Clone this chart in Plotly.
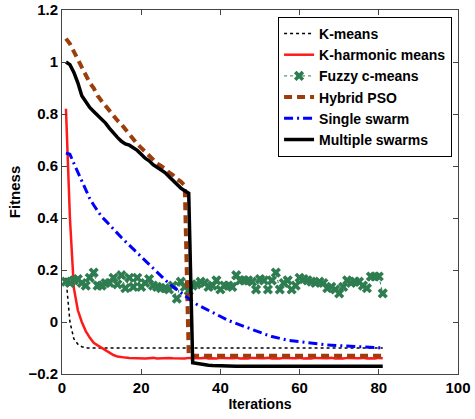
import plotly.graph_objects as go

iterations = list(range(1, 82))

kmeans = [0.17, 0.0, -0.065, -0.085, -0.095] + [-0.1] * 76

kharmonic = [0.82, 0.40, 0.13, 0.045, 0.0, -0.035, -0.06, -0.08, -0.09, -0.10,
             -0.11, -0.12, -0.127, -0.133, -0.136, -0.137, -0.138, -0.139, -0.138, -0.139,
             -0.14, -0.139, -0.138, -0.14, -0.139, -0.14, -0.138, -0.139, -0.14, -0.139,
             -0.14, -0.138, -0.139, -0.14, -0.139, -0.138, -0.14, -0.139, -0.14, -0.138,
             -0.139, -0.14, -0.139, -0.138, -0.14, -0.139, -0.14, -0.138, -0.139, -0.14,
             -0.139, -0.138, -0.14, -0.139, -0.14, -0.138, -0.139, -0.14, -0.139, -0.138,
             -0.14, -0.139, -0.14, -0.138, -0.139, -0.14, -0.139, -0.138, -0.14, -0.139,
             -0.14, -0.138, -0.139, -0.14, -0.139, -0.138, -0.14, -0.139, -0.14, -0.138,
             -0.139]

fuzzy = [0.155, 0.15, 0.16, 0.165, 0.15, 0.14, 0.17, 0.19, 0.14, 0.14,
         0.15, 0.15, 0.17, 0.145, 0.18, 0.13, 0.17, 0.135, 0.17, 0.135,
         0.15, 0.165, 0.14, 0.135, 0.13, 0.13, 0.125, 0.14, 0.09, 0.155,
         0.135, 0.12, 0.14, 0.145, 0.155, 0.15, 0.135, 0.14, 0.16, 0.125,
         0.14, 0.14, 0.135, 0.18, 0.16, 0.16, 0.16, 0.155, 0.125, 0.165,
         0.16, 0.125, 0.16, 0.19, 0.125, 0.15, 0.16, 0.125, 0.14, 0.17,
         0.165, 0.16, 0.155, 0.15, 0.155, 0.15, 0.13, 0.135, 0.125, 0.11,
         0.135, 0.16, 0.15, 0.155, 0.155, 0.14, 0.13, 0.175, 0.175, 0.175,
         0.11]

hybrid_pso = [1.09, 1.07, 1.04, 1.01, 0.98, 0.95, 0.92, 0.90, 0.87, 0.85,
              0.83, 0.81, 0.79, 0.775, 0.76, 0.74, 0.72, 0.70, 0.685, 0.67,
              0.655, 0.635, 0.625, 0.61, 0.60, 0.59, 0.575, 0.565, 0.55, 0.54,
              0.525] + [-0.13] * 50

single_swarm = [0.65, 0.645, 0.61, 0.575, 0.54, 0.505, 0.475, 0.45, 0.425, 0.405,
                0.39, 0.373, 0.355, 0.34, 0.325, 0.31, 0.295, 0.28, 0.265, 0.25,
                0.235, 0.22, 0.205, 0.19, 0.175, 0.16, 0.148, 0.136, 0.124, 0.112,
                0.1, 0.088, 0.078, 0.068, 0.06, 0.052, 0.044, 0.036, 0.028, 0.02,
                0.013, 0.006, 0.0, -0.006, -0.012, -0.018, -0.024, -0.03, -0.036, -0.041,
                -0.046, -0.051, -0.056, -0.06, -0.064, -0.067, -0.07, -0.072, -0.074, -0.076,
                -0.078, -0.08, -0.082, -0.084, -0.086, -0.087, -0.088, -0.089, -0.09, -0.091,
                -0.092, -0.093, -0.094, -0.095, -0.096, -0.097, -0.098, -0.098, -0.099, -0.1,
                -0.1]

multiple_swarms = [1.0, 0.99, 0.96, 0.92, 0.87, 0.845, 0.825, 0.81, 0.795, 0.78,
                   0.765, 0.745, 0.725, 0.71, 0.695, 0.685, 0.68, 0.67, 0.66, 0.645,
                   0.63, 0.62, 0.605, 0.595, 0.585, 0.575, 0.56, 0.545, 0.53, 0.515,
                   0.505, 0.495, -0.157, -0.16, -0.163, -0.165, -0.166, -0.167, -0.168, -0.169] + [-0.17] * 41

x_ticks = [0, 20, 40, 60, 80, 100]
y_ticks = [-0.2, 0, 0.2, 0.4, 0.6, 0.8, 1, 1.2]
y_ticktext = ["\u22120.2", "0", "0.2", "0.4", "0.6", "0.8", "1", "1.2"]

FAM = "Liberation Sans, Arial, sans-serif"

fig = go.Figure()
fig.add_trace(go.Scatter(x=iterations, y=kmeans, name="K-means", mode="lines",
                         line=dict(color="black", width=1.5, dash="dot")))
fig.add_trace(go.Scatter(x=iterations, y=kharmonic, name="K-harmonic means", mode="lines",
                         line=dict(color="#ff1a1a", width=2.5)))
fig.add_trace(go.Scatter(x=iterations, y=fuzzy, name="Fuzzy c-means", mode="lines+markers",
                         line=dict(color="#2e7d50", width=1, dash="dot"),
                         marker=dict(symbol="x", size=9, color="#2e7d50")))
fig.add_trace(go.Scatter(x=iterations, y=hybrid_pso, name="Hybrid PSO", mode="lines",
                         line=dict(color="#9c3d0b", width=4, dash="8px,5px")))
fig.add_trace(go.Scatter(x=iterations, y=single_swarm, name="Single swarm", mode="lines",
                         line=dict(color="#0000ff", width=3, dash="9px,4px,2px,4px")))
fig.add_trace(go.Scatter(x=iterations, y=multiple_swarms, name="Multiple swarms", mode="lines",
                         line=dict(color="black", width=3.5)))

fig.update_layout(
    width=475, height=419,
    margin=dict(l=62, r=17, t=10, b=45),
    paper_bgcolor="white", plot_bgcolor="white",
    font=dict(family=FAM, size=14, color="black"),
    showlegend=True,
    legend=dict(x=0.985, y=0.981, xanchor="right", yanchor="top",
                bgcolor="white", bordercolor="black", borderwidth=1,
                font=dict(family=FAM, size=14, color="black", weight="bold"),
                tracegroupgap=0, itemwidth=30),
)
fig.update_xaxes(range=[0, 100], tickvals=x_ticks, showgrid=False, zeroline=False,
                 automargin=False,
                 showline=True, mirror="ticks", linecolor="#444", linewidth=1,
                 ticks="inside", ticklen=5, tickcolor="#444",
                 tickfont=dict(family=FAM, size=15, color="black", weight="bold"),
                 title=dict(text="Iterations", standoff=2,
                            font=dict(family=FAM, size=14, color="black", weight="bold")))
fig.update_yaxes(range=[-0.2, 1.2], tickvals=y_ticks, ticktext=y_ticktext, showgrid=False, zeroline=False,
                 automargin=False,
                 showline=True, mirror="ticks", linecolor="#444", linewidth=1,
                 ticks="inside", ticklen=5, tickcolor="#444",
                 tickfont=dict(family=FAM, size=15, color="black", weight="bold"),
                 title=dict(text="Fitness", standoff=4,
                            font=dict(family=FAM, size=15, color="black", weight="bold")))

fig.write_html("out.html")
